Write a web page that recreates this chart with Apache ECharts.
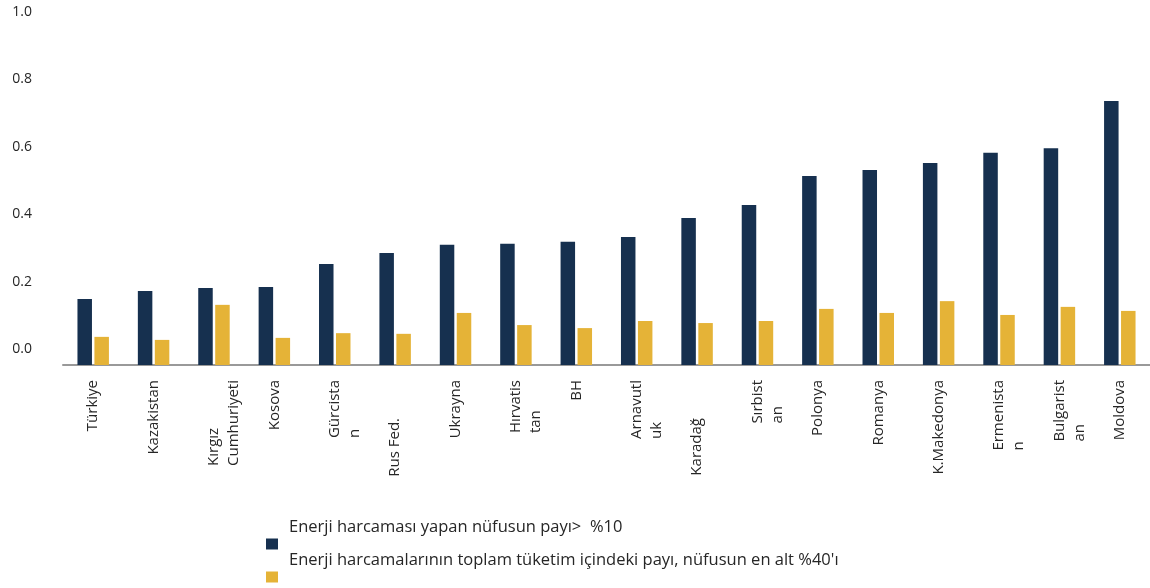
<!DOCTYPE html>
<html lang="tr">
<head>
<meta charset="utf-8">
<title>Enerji harcamaları</title>
<script src="https://cdn.jsdelivr.net/npm/echarts@6/dist/echarts.min.js"></script>
<style>
  html, body { margin: 0; padding: 0; background: #ffffff; }
  #chart { width: 1150px; height: 588px; }
</style>
</head>
<body>
<div id="chart"></div>
<script>
// Country labels (line breaks as they wrap under the axis)
const categories = [
  'Türkiye', 'Kazakistan', 'Kırgız\nCumhuriyeti', 'Kosova', 'Gürcista\nn',
  'Rus Fed.', 'Ukrayna', 'Hırvatis\ntan', 'BH', 'Arnavutl\nuk', 'Karadağ',
  'Sırbist\nan', 'Polonya', 'Romanya', 'K.Makedonya', 'Ermenista\nn',
  'Bulgarist\nan', 'Moldova'
];

const seriesNames = [
  'Enerji harcaması yapan nüfusun payı>  %10',
  "Enerji harcamalarının toplam tüketim içindeki payı, nüfusun en alt %40'ı"
];

// Share of population spending more than 10% on energy
const shareAbove10 = [
  0.148, 0.172, 0.181, 0.184, 0.252, 0.285, 0.309, 0.312, 0.318,
  0.332, 0.389, 0.427, 0.513, 0.531, 0.552, 0.582, 0.596, 0.736
];

// Energy share of total consumption, bottom 40% of population
const shareBottom40 = [
  0.036, 0.027, 0.131, 0.033, 0.047, 0.045, 0.107, 0.071, 0.062,
  0.083, 0.077, 0.083, 0.119, 0.107, 0.142, 0.101, 0.125, 0.113
];

const yTicks = [0, 0.2, 0.4, 0.6, 0.8, 1.0];

const FONT = 'Open Sans';
const TEXT = '#262626';
const NAVY = '#16304f';
const GOLD = '#e5b337';
const LINE_H = 20;
const AXIS_FLOOR = -0.0475;

// Labels that sit further from the axis
const labelDrop = { 'Rus Fed.': 38, 'Karadağ': 38 };

function categoryItem(name) {
  const lines = name.split('\n').length;
  const pad = [lines > 1 ? LINE_H * (lines - 1) : 0, labelDrop[name] || 0, 0, 0];
  return { value: name, textStyle: { padding: pad } };
}

const chart = echarts.init(document.getElementById('chart'), null, { renderer: 'canvas' });

// Legend text sits above its swatch: an empty second line pushes it up
const legendBlock = (top, name) => ({
  data: [name], left: 266, top: top, padding: 0,
  icon: 'rect', itemWidth: 12, itemHeight: 11,
  formatter: (n) => n + '\n ',
  textStyle: { fontFamily: FONT, fontSize: 16.5, color: TEXT, lineHeight: 34, padding: [0, 0, 0, 6] }
});

chart.setOption({
  animation: false,
  backgroundColor: '#ffffff',
  textStyle: { fontFamily: FONT },
  grid: { left: 63, right: 0, top: 12, bottom: 223, containLabel: false },
  legend: [
    legendBlock(510, seriesNames[0]),
    legendBlock(543, seriesNames[1])
  ],
  xAxis: {
    type: 'category',
    data: categories.map(categoryItem),
    axisTick: { show: false },
    axisLine: { onZero: false, lineStyle: { color: '#999999', width: 2 } },
    axisLabel: {
      interval: 0,
      rotate: 90,
      margin: 15,
      fontFamily: FONT,
      fontSize: 15,
      color: TEXT,
      formatter: (v) => v.split('\n').map((s) => '{l|' + s + '}').join('\n'),
      rich: {
        l: { align: 'left', fontFamily: FONT, fontSize: 15, color: TEXT, lineHeight: LINE_H }
      }
    }
  },
  yAxis: {
    type: 'value',
    min: AXIS_FLOOR,
    max: 1.0,
    startValue: AXIS_FLOOR,
    axisLine: { show: false },
    axisTick: { show: false },
    splitLine: { show: false },
    axisLabel: {
      customValues: yTicks,
      margin: 31,
      fontFamily: FONT,
      fontSize: 14,
      color: TEXT,
      formatter: (v) => v.toFixed(1)
    }
  },
  series: [
    {
      name: seriesNames[0], type: 'bar', data: shareAbove10,
      barWidth: 14.5, barGap: '17%',
      itemStyle: { color: NAVY }
    },
    {
      name: seriesNames[1], type: 'bar', data: shareBottom40,
      barWidth: 14.5, barGap: '17%',
      itemStyle: { color: GOLD }
    }
  ]
});
</script>
</body>
</html>
